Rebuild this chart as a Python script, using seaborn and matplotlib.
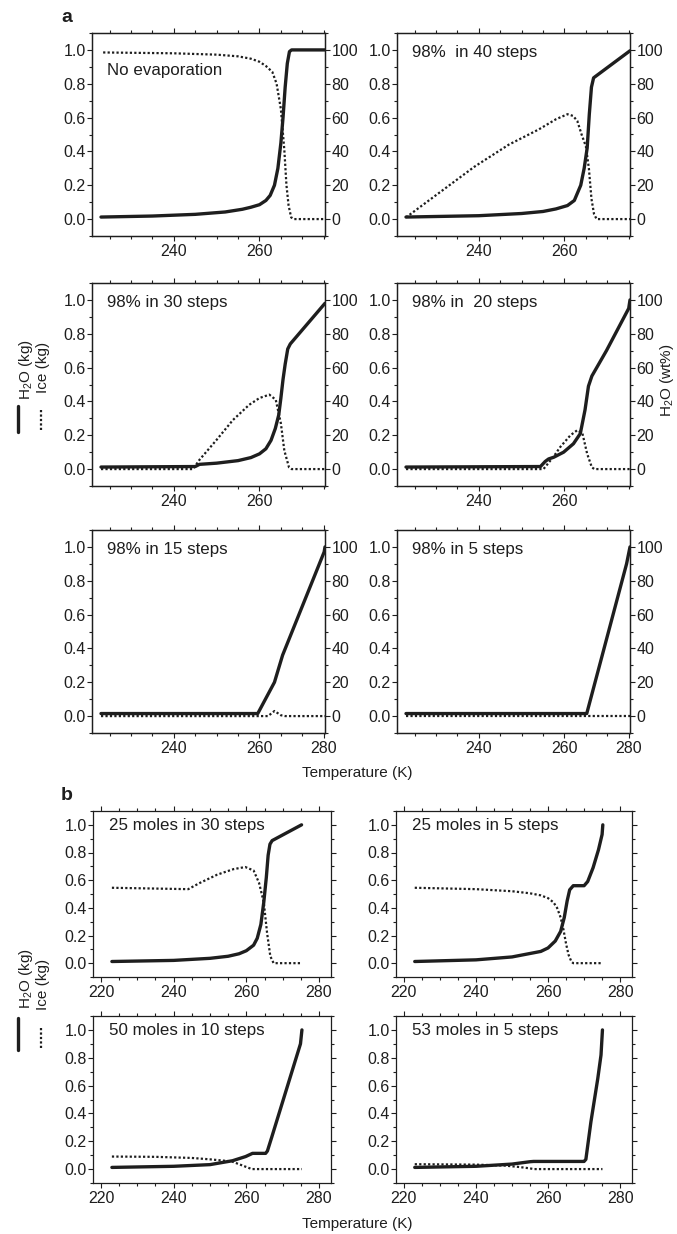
import numpy as np
import pandas as pd
import matplotlib
matplotlib.use("Agg")
import matplotlib.pyplot as plt
import seaborn as sns
from matplotlib.lines import Line2D
from matplotlib.ticker import MultipleLocator

# ---------------- data ----------------
# panel a1: No evaporation
a1_h2o_T = [223, 235, 245, 252, 256, 258, 260, 261.5, 262.5, 263.5, 264.3, 265, 265.5, 266, 266.5, 267, 267.5, 275.3]
a1_h2o = [0.012, 0.018, 0.028, 0.042, 0.058, 0.07, 0.085, 0.11, 0.14, 0.2, 0.3, 0.45, 0.6, 0.78, 0.92, 0.99, 1.0, 1.0]
a1_ice_T = [223.5, 240, 250, 255, 258, 260, 261.5, 263, 264, 265, 265.8, 266.3, 266.8, 267.4, 268, 275.3]
a1_ice = [0.985, 0.98, 0.972, 0.962, 0.948, 0.93, 0.905, 0.87, 0.8, 0.65, 0.41, 0.2, 0.08, 0.01, 0.0, 0.0]

# panel a2: 98% in 40 steps
a2_h2o_T = [223, 240, 250, 255, 258, 260.7, 262.3, 263.8, 264.6, 265.3, 265.8, 266.3, 266.8, 275.3]
a2_h2o = [0.012, 0.02, 0.033, 0.045, 0.06, 0.08, 0.11, 0.2, 0.3, 0.42, 0.62, 0.78, 0.835, 0.995]
a2_ice_T = [223, 231, 239, 247, 254, 258, 260.7, 262, 263, 264, 265, 265.7, 266.3, 266.9, 267.5, 275.3]
a2_ice = [0.01, 0.16, 0.31, 0.44, 0.53, 0.59, 0.62, 0.61, 0.58, 0.5, 0.43, 0.3, 0.12, 0.03, 0.0, 0.0]

# panel a3: 98% in 30 steps
a3_h2o_T = [223, 245, 246, 250, 255, 258, 260, 261.5, 262.7, 263.7, 264.5, 265, 265.5, 266, 266.6, 267.2, 275.3]
a3_h2o = [0.012, 0.015, 0.028, 0.035, 0.05, 0.068, 0.09, 0.12, 0.17, 0.24, 0.32, 0.42, 0.53, 0.62, 0.71, 0.74, 0.98]
a3_ice_T = [223, 244.5, 246, 249.9, 253.8, 257.6, 260, 262.3, 263.8, 265, 265.8, 266.9, 267.5, 275.3]
a3_ice = [0.0, 0.0, 0.055, 0.17, 0.29, 0.38, 0.42, 0.44, 0.41, 0.27, 0.11, 0.01, 0.0, 0.0]

# panel a4: 98% in 20 steps
a4_h2o_T = [223, 254.4, 255.5, 256.3, 257.5, 259.8, 262.1, 263.7, 264.8, 265.6, 266.4, 269.8, 275, 275.3]
a4_h2o = [0.012, 0.015, 0.045, 0.06, 0.07, 0.10, 0.15, 0.21, 0.35, 0.49, 0.55, 0.70, 0.95, 1.0]
a4_ice_T = [223, 255.1, 257.5, 259, 261.4, 263, 264.2, 265.3, 266.4, 267, 275.3]
a4_ice = [0.0, 0.0, 0.075, 0.13, 0.2, 0.23, 0.21, 0.09, 0.01, 0.0, 0.0]

# panel a5: 98% in 15 steps
a5_h2o_T = [223, 259.6, 263.5, 265.4, 275.1, 275.3]
a5_h2o = [0.015, 0.015, 0.2, 0.36, 0.97, 1.0]
a5_ice_T = [223, 262, 263.5, 265, 266, 275.3]
a5_ice = [0.0, 0.0, 0.03, 0.005, 0.0, 0.0]

# panel a6: 98% in 5 steps
a6_h2o_T = [223, 265.2, 274.5, 275.3]
a6_h2o = [0.015, 0.015, 0.9, 1.0]
a6_ice_T = [223, 275.3]
a6_ice = [0.0, 0.0]

# panel b1: 25 moles in 30 steps
b1_h2o_T = [223, 240, 250, 255, 258, 260, 262, 263, 264, 264.8, 265.5, 266, 266.5, 267.1, 275.2]
b1_h2o = [0.012, 0.02, 0.035, 0.05, 0.068, 0.09, 0.13, 0.18, 0.28, 0.44, 0.62, 0.78, 0.86, 0.886, 1.0]
b1_ice_T = [223, 244, 247.2, 252, 256.5, 259.7, 262, 263.5, 264.8, 265.7, 266.6, 267.5, 275.2]
b1_ice = [0.545, 0.535, 0.58, 0.64, 0.68, 0.695, 0.67, 0.58, 0.44, 0.22, 0.05, 0.0, 0.0]

# panel b2: 25 moles in 5 steps
b2_h2o_T = [223, 240, 250, 258, 260, 262, 263.5, 264.5, 265.3, 266, 267, 270, 271, 272.5, 274, 275, 275.2]
b2_h2o = [0.012, 0.024, 0.045, 0.085, 0.11, 0.16, 0.23, 0.33, 0.45, 0.53, 0.56, 0.56, 0.59, 0.69, 0.82, 0.93, 1.0]
b2_ice_T = [223, 240, 250, 255, 258, 260, 261.5, 262.5, 263.5, 264.3, 265, 265.7, 266.5, 267, 275.2]
b2_ice = [0.545, 0.535, 0.52, 0.505, 0.49, 0.47, 0.44, 0.40, 0.33, 0.24, 0.14, 0.06, 0.01, 0.0, 0.0]

# panel b3: 50 moles in 10 steps
b3_h2o_T = [223, 240, 250, 256.2, 259.8, 261.7, 265.3, 265.8, 267, 274.9, 275.3]
b3_h2o = [0.012, 0.02, 0.032, 0.06, 0.09, 0.113, 0.113, 0.13, 0.23, 0.9, 1.0]
b3_ice_T = [223, 235, 245, 250, 254, 256, 258, 260, 261.5, 275.3]
b3_ice = [0.09, 0.088, 0.08, 0.07, 0.06, 0.055, 0.035, 0.015, 0.0, 0.0]

# panel b4: 53 moles in 5 steps
b4_h2o_T = [223, 240, 250, 255, 256, 270, 270.5, 271.9, 273.8, 274.7, 275.1]
b4_h2o = [0.012, 0.02, 0.036, 0.053, 0.055, 0.055, 0.07, 0.34, 0.65, 0.82, 1.0]
b4_ice_T = [223, 240, 248, 252, 255, 256, 275.1]
b4_ice = [0.035, 0.032, 0.025, 0.015, 0.005, 0.0, 0.0]

a_titles = ["No evaporation", "98%  in 40 steps", "98% in 30 steps",
            "98% in  20 steps", "98% in 15 steps", "98% in 5 steps"]
b_titles = ["25 moles in 30 steps", "25 moles in 5 steps",
            "50 moles in 10 steps", "53 moles in 5 steps"]
left_ticks = [0.0, 0.2, 0.4, 0.6, 0.8, 1.0]
right_ticks = [0, 20, 40, 60, 80, 100]
a_xticks = [240, 260]
a_xticks_bottom = [240, 260, 275]
a_xticklabels_bottom = ["240", "260", "280"]
b_xticks = [220, 240, 260, 280]

# ---------------- style ----------------
sns.set_style("ticks")
plt.rcParams["font.family"] = ["Liberation Sans", "DejaVu Sans"]
plt.rcParams["mathtext.fontset"] = "custom"
plt.rcParams["mathtext.rm"] = "Liberation Sans"
plt.rcParams["mathtext.it"] = "Liberation Sans:italic"
plt.rcParams["mathtext.bf"] = "Liberation Sans:bold"
INK = "#1e1e1e"
FS = 11.5      # tick labels
TFS = 12.2     # in-panel captions
LFS = 11       # axis labels

W, H = 677, 1234
fig = plt.figure(figsize=(W / 100, H / 100), dpi=100)


def rect(x0, x1, y0, y1):
    return [x0 / W, 1 - y1 / H, (x1 - x0) / W, (y1 - y0) / H]


def draw(ax, th, h, ti, ice):
    sns.lineplot(x=ti, y=ice, ax=ax, color=INK, linewidth=1.6,
                 linestyle=(0, (1.0, 1.0)), estimator=None, sort=False, zorder=2)
    sns.lineplot(x=th, y=h, ax=ax, color=INK, linewidth=2.4,
                 estimator=None, sort=False, zorder=3)
    ax.set_xlabel("")
    ax.set_ylabel("")


def style_axes(ax):
    for s in ax.spines.values():
        s.set_linewidth(0.9)
        s.set_color(INK)
    ax.tick_params(which="both", direction="out", colors=INK, labelcolor=INK,
                   labelsize=FS, width=0.8)
    ax.tick_params(which="major", length=3.5, pad=1.0)
    ax.tick_params(which="minor", length=2.0)
    ax.tick_params(axis="x", which="major", pad=2.5)


# ---------------- panel a ----------------
a_cols = [(92, 325), (397, 630)]
a_rows = [(33, 236), (283, 486), (530, 733)]
a_data = [(a1_h2o_T, a1_h2o, a1_ice_T, a1_ice), (a2_h2o_T, a2_h2o, a2_ice_T, a2_ice),
          (a3_h2o_T, a3_h2o, a3_ice_T, a3_ice), (a4_h2o_T, a4_h2o, a4_ice_T, a4_ice),
          (a5_h2o_T, a5_h2o, a5_ice_T, a5_ice), (a6_h2o_T, a6_h2o, a6_ice_T, a6_ice)]

for k, (th, h, ti, ice) in enumerate(a_data):
    r, c = divmod(k, 2)
    ax = fig.add_axes(rect(a_cols[c][0], a_cols[c][1], a_rows[r][0], a_rows[r][1]))
    draw(ax, th, h, ti, ice)
    ax.set_xlim(220.9, 275.3)
    ax.set_ylim(-0.1, 1.1)
    ax.set_yticks(left_ticks)
    ax.set_yticklabels([f"{v:.1f}" for v in left_ticks])
    ax.yaxis.set_minor_locator(MultipleLocator(0.1))
    if r == 2:
        ax.set_xticks(a_xticks_bottom)
        ax.set_xticklabels(a_xticklabels_bottom)
    else:
        ax.set_xticks(a_xticks)
        ax.set_xticklabels([str(v) for v in a_xticks])
    ax.xaxis.set_minor_locator(MultipleLocator(5))
    style_axes(ax)
    ax.tick_params(top=True, which="both")
    ytxt = 0.815 if k == 0 else 0.905
    ax.text(0.064, ytxt, a_titles[k], transform=ax.transAxes, fontsize=TFS,
            color=INK, ha="left", va="center")
    axr = ax.twinx()
    axr.set_ylim(-10, 110)
    axr.set_yticks(right_ticks)
    axr.set_yticklabels([str(v) for v in right_ticks])
    axr.yaxis.set_minor_locator(MultipleLocator(10))
    style_axes(axr)
    axr.grid(False)

# ---------------- panel b ----------------
b_cols = [(93, 331), (396, 632)]
b_rows = [(811, 977), (1016, 1183)]
b_data = [(b1_h2o_T, b1_h2o, b1_ice_T, b1_ice), (b2_h2o_T, b2_h2o, b2_ice_T, b2_ice),
          (b3_h2o_T, b3_h2o, b3_ice_T, b3_ice), (b4_h2o_T, b4_h2o, b4_ice_T, b4_ice)]

for k, (th, h, ti, ice) in enumerate(b_data):
    r, c = divmod(k, 2)
    ax = fig.add_axes(rect(b_cols[c][0], b_cols[c][1], b_rows[r][0], b_rows[r][1]))
    draw(ax, th, h, ti, ice)
    ax.set_xlim(217.8, 283.3)
    ax.set_ylim(-0.1, 1.1)
    ax.set_yticks(left_ticks)
    ax.set_yticklabels([f"{v:.1f}" for v in left_ticks])
    ax.yaxis.set_minor_locator(MultipleLocator(0.1))
    ax.set_xticks(b_xticks)
    ax.set_xticklabels([str(v) for v in b_xticks])
    ax.xaxis.set_minor_locator(MultipleLocator(5))
    style_axes(ax)
    ax.tick_params(top=True, right=True, which="both")
    ax.text(0.067, 0.915, b_titles[k], transform=ax.transAxes, fontsize=TFS,
            color=INK, ha="left", va="center")

# ---------------- figure-level labels ----------------
def fx(x):
    return x / W


def fy(y):
    return 1 - y / H


fig.text(fx(61), fy(17), "a", fontsize=14, fontweight="bold", color=INK,
         ha="left", va="center")
fig.text(fx(61), fy(796), "b", fontsize=14, fontweight="bold", color=INK,
         ha="left", va="center")

fig.text(fx(357), fy(773), "Temperature (K)", fontsize=LFS, color=INK,
         ha="center", va="center")
fig.text(fx(357), fy(1224), "Temperature (K)", fontsize=LFS, color=INK,
         ha="center", va="center")

fig.text(fx(667), fy(380), r"H$_\mathrm{2}$O (wt%)", fontsize=LFS, color=INK,
         rotation=90, ha="center", va="center")


def side_legend(y_h2o_text, y_ice_text, solid_span, dot_span):
    fig.text(fx(26), fy(y_h2o_text), r"H$_\mathrm{2}$O (kg)", fontsize=LFS,
             color=INK, rotation=90, ha="center", va="center")
    fig.text(fx(43), fy(y_ice_text), "Ice (kg)", fontsize=LFS, color=INK,
             rotation=90, ha="center", va="center")
    fig.add_artist(Line2D([fx(18), fx(18)], [fy(solid_span[0]), fy(solid_span[1])],
                          transform=fig.transFigure, color=INK, lw=2.4))
    fig.add_artist(Line2D([fx(41), fx(41)], [fy(dot_span[0]), fy(dot_span[1])],
                          transform=fig.transFigure, color=INK, lw=1.6,
                          linestyle=(0, (1.0, 1.0))))


side_legend(370, 367, (406, 432), (410, 432))
side_legend(979, 984, (1018, 1050), (1028, 1050))

fig.savefig("out.png", dpi=100, facecolor="white")
